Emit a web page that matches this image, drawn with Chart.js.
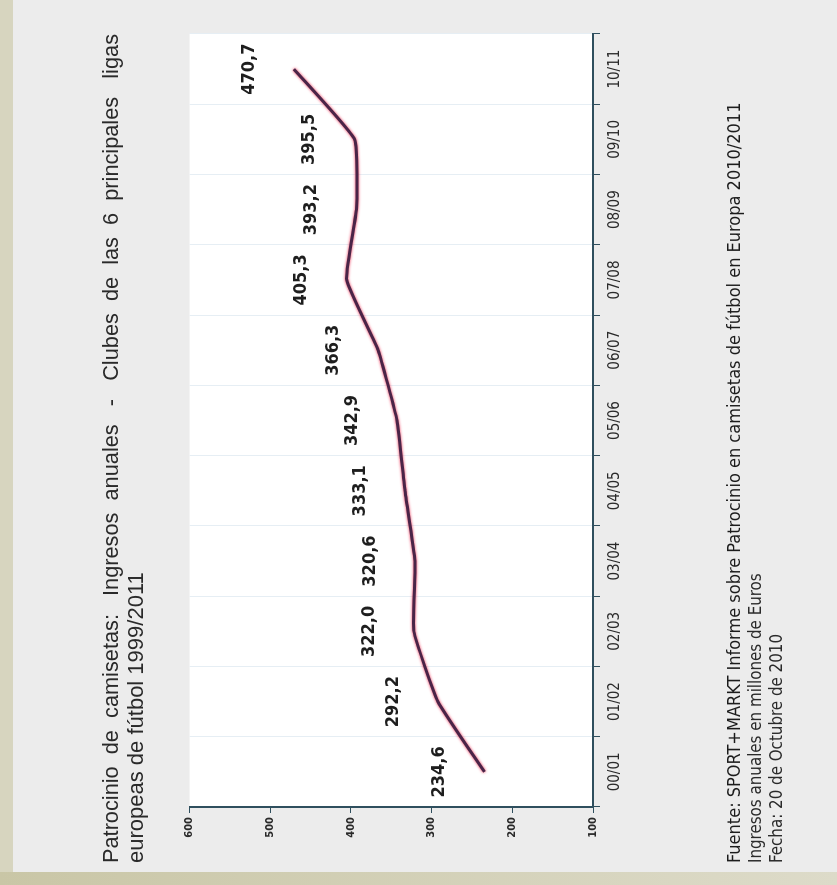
<!DOCTYPE html>
<html>
<head>
<meta charset="utf-8">
<script src="https://cdn.jsdelivr.net/npm/chart.js@4.4.1/dist/chart.umd.min.js"></script>
<style>
  html, body { margin: 0; padding: 0; }
  body { width: 837px; height: 885px; background: #ececec; position: relative; overflow: hidden; }
  #edge-left { position: absolute; left: 0; top: 0; width: 13px; height: 885px; background: #d7d5bf; }
  #edge-bottom { position: absolute; left: 0; top: 872px; width: 837px; height: 13px; background: linear-gradient(to right, #c9c6a6, #dddbc9); }
  #turn { position: absolute; left: 0; top: 0; width: 885px; height: 837px; transform-origin: 0 0; transform: translateY(885px) rotate(-90deg); }
</style>
</head>
<body>
<div id="edge-left"></div>
<div id="edge-bottom"></div>
<div id="turn"><canvas id="sponsorship" width="885" height="837"></canvas></div>
<script>
let seasons = ['00/01', '01/02', '02/03', '03/04', '04/05', '05/06', '06/07', '07/08', '08/09', '09/10', '10/11'];
let income = [234.6, 292.2, 322.0, 320.6, 333.1, 342.9, 366.3, 405.3, 393.2, 395.5, 470.7];
let valueTicks = [100, 200, 300, 400, 500, 600];
let notes = ['Fuente: SPORT+MARKT Informe sobre Patrocinio en camisetas de fútbol en Europa 2010/2011',
             'Ingresos anuales en millones de Euros',
             'Fecha: 20 de Octubre de 2010'];

let narrow = "'Liberation Sans Narrow', 'DejaVu Sans Condensed', 'Liberation Sans', sans-serif";
let axisColor = '#2f4f5e';

let ctx = document.getElementById('sponsorship').getContext('2d');

// white plot area
let plotBackground = {
    id: 'plotBackground',
    beforeDraw(chart) {
        let a = chart.chartArea;
        chart.ctx.save();
        chart.ctx.fillStyle = '#ffffff';
        chart.ctx.fillRect(a.left, a.top, a.right - a.left, a.bottom - a.top);
        chart.ctx.restore();
    }
};

// reddish halo around the dark line
let lineGlow = {
    id: 'lineGlow',
    beforeDatasetDraw(chart) {
        chart.ctx.save();
        chart.ctx.shadowColor = 'rgba(235, 45, 80, 1)';
        chart.ctx.shadowBlur = 3;
    },
    afterDatasetDraw(chart) {
        chart.ctx.restore();
    }
};

// value labels above each point
let pointLabels = {
    id: 'pointLabels',
    afterDatasetsDraw(chart) {
        let c = chart.ctx;
        let meta = chart.getDatasetMeta(0);
        c.save();
        c.font = 'bold 18px ' + narrow;
        c.fillStyle = '#1e1e1e';
        c.textAlign = 'center';
        c.textBaseline = 'middle';
        meta.data.forEach(function (pt, i) {
            c.fillText(income[i].toFixed(1).replace('.', ','), pt.x, pt.y - 45);
        });
        c.restore();
    }
};

// source lines under the chart
let footnote = {
    id: 'footnote',
    afterDraw(chart) {
        let c = chart.ctx;
        c.save();
        c.fillStyle = '#1c1c1c';
        c.textAlign = 'left';
        c.textBaseline = 'middle';
        c.font = '18px ' + narrow;
        c.fillText(notes[0], 22, 735);
        c.fillStyle = '#2a2a2a';
        c.font = '16.8px ' + narrow;
        c.fillText(notes[1], 22, 757);
        c.fillText(notes[2], 22, 778);
        c.restore();
    }
};

let chart = new Chart(ctx, {
    type: 'line',
    data: {
        labels: seasons,
        datasets: [{
            label: 'Ingresos anuales',
            data: income,
            borderColor: '#4a2548',
            borderWidth: 3,
            tension: 0.12,
            pointRadius: 0,
            fill: false
        }]
    },
    options: {
        responsive: false,
        animation: false,
        layout: { padding: { left: 22, right: 34, top: 0, bottom: 121 } },
        plugins: {
            legend: { display: false },
            tooltip: { enabled: false },
            title: {
                display: true,
                align: 'start',
                text: ['Patrocinio  de  camisetas:   Ingresos  anuales   -   Clubes  de  las  6  principales   ligas',
                       'europeas de fútbol 1999/2011'],
                color: '#2a2a2a',
                font: { family: "'Liberation Sans', Arial, sans-serif", size: 22, weight: 'normal', lineHeight: 1.15 },
                padding: { top: 99, bottom: 40 }
            }
        },
        scales: {
            x: {
                type: 'category',
                offset: true,
                grid: {
                    offset: true,
                    drawOnChartArea: true,
                    color: '#e6eef4',
                    tickColor: axisColor,
                    tickLength: 7,
                    lineWidth: 1
                },
                border: { color: axisColor, width: 2 },
                ticks: {
                    color: '#2a2a2a',
                    font: { family: narrow, size: 15 },
                    maxRotation: 0,
                    padding: 6
                },
                afterFit(scale) { scale.height = 123; }
            },
            y: {
                min: 100,
                max: 600,
                afterBuildTicks(scale) { scale.ticks = valueTicks.map(v => ({ value: v })); },
                grid: {
                    drawOnChartArea: false,
                    tickColor: axisColor,
                    tickLength: 6
                },
                border: { color: axisColor, width: 2 },
                ticks: {
                    color: '#2a2a2a',
                    font: { family: narrow, size: 11, weight: 'bold' },
                    padding: 4
                },
                afterFit(scale) { scale.width = 56; }
            }
        }
    },
    plugins: [plotBackground, lineGlow, pointLabels, footnote]
});
</script>
</body>
</html>
